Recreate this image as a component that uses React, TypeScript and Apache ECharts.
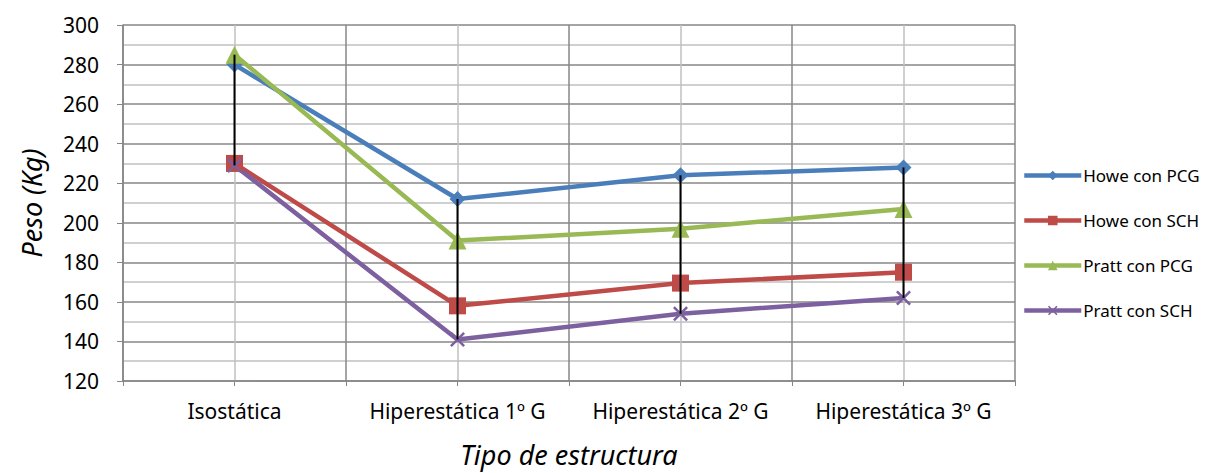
import React, { useEffect, useRef } from "react";
import * as echarts from "echarts";

const categories = ["Isostática", "Hiperestática 1º G", "Hiperestática 2º G", "Hiperestática 3º G"];
const howePCG = [280, 212, 224, 228];
const howeSCH = [230, 158, 169.5, 175];
const prattPCG = [285, 191, 197, 207];
const prattSCH = [229, 141, 154, 162];
const seriesNames = ["Howe con PCG", "Howe con SCH", "Pratt con PCG", "Pratt con SCH"];
const yTicks = { min: 120, max: 300, interval: 20 };

const FONT = "'Noto Sans', sans-serif";
const xPath = "path://M0,1.2L1.2,0L10,8.8L8.8,10Z M8.8,0L10,1.2L1.2,10L0,8.8Z";

export default function App() {
  const ref = useRef<HTMLDivElement>(null);
  useEffect(() => {
    if (!ref.current) return;
    const chart = echarts.init(ref.current, undefined, { renderer: "svg" });
    const all = [howePCG, howeSCH, prattPCG, prattSCH];
    const hiLo = categories.map((_, i) => {
      const vals = all.map((a) => a[i]);
      return [i, Math.max(...vals), Math.min(...vals)];
    });
    const mk = (name: string, data: number[], color: string, symbol: string, size: number) => ({
      name,
      type: "line",
      data,
      symbol,
      symbolSize: size,
      showSymbol: true,
      lineStyle: { color, width: 4.5 },
      itemStyle: { color },
      z: 3,
    });
    chart.setOption({
      animation: false,
      backgroundColor: "#fff",
      textStyle: { fontFamily: FONT },
      grid: { left: 123, top: 25, right: 198, bottom: 91 },
      legend: {
        orient: "vertical",
        left: 1022,
        top: 167,
        padding: 0,
        itemWidth: 57,
        itemHeight: 12,
        itemGap: 28,
        data: seriesNames,
        lineStyle: { width: 4.5 },
        textStyle: { fontSize: 17, color: "#000", fontFamily: FONT, padding: [0, 0, 0, -3] },
      },
      xAxis: [
        {
          type: "category",
          data: categories,
          boundaryGap: true,
          position: "bottom",
          axisLine: { show: true, lineStyle: { color: "#868686", width: 1.5 } },
          axisTick: { show: false },
          splitLine: { show: false },
          axisLabel: { interval: 0, hideOverlap: false, fontSize: 21, color: "#000", margin: 19, fontFamily: FONT },
          name: "Tipo de estructura",
          nameLocation: "middle",
          nameGap: 60,
          nameTextStyle: { fontSize: 27, fontStyle: "italic", color: "#000", fontFamily: FONT },
        },
        {
          type: "value",
          min: 0,
          max: 4,
          interval: 1,
          position: "bottom",
          axisLine: { show: false },
          axisLabel: { show: false },
          axisTick: { show: true, length: 5, inside: false, lineStyle: { color: "#868686" } },
          minorTick: { show: true, splitNumber: 2, length: 5, lineStyle: { color: "#868686" } },
          splitLine: { show: true, lineStyle: { color: "#878787", width: 1.5 } },
          minorSplitLine: { show: true, lineStyle: { color: "#c0c0c0", width: 1.5 } },
        },
      ],
      yAxis: {
        type: "value",
        min: yTicks.min,
        max: yTicks.max,
        interval: yTicks.interval,
        axisLine: { show: true, lineStyle: { color: "#868686", width: 1.5 } },
        axisTick: { show: true, length: 6, lineStyle: { color: "#868686" } },
        minorTick: { show: false, splitNumber: 2 },
        splitLine: { show: true, lineStyle: { color: "#878787", width: 1.5 } },
        minorSplitLine: { show: true, lineStyle: { color: "#c0c0c0", width: 1.5 } },
        axisLabel: { fontSize: 21, color: "#000", margin: 24, fontFamily: FONT },
        name: "Peso (Kg)",
        nameLocation: "middle",
        nameRotate: 90,
        nameGap: 78,
        nameTextStyle: { fontSize: 27, fontStyle: "italic", color: "#000", fontFamily: FONT },
      },
      series: [
        mk(seriesNames[0], howePCG, "#4a7ebb", "diamond", 16),
        mk(seriesNames[1], howeSCH, "#be4b48", "rect", 17),
        mk(seriesNames[2], prattPCG, "#98b954", "triangle", 18),
        mk(seriesNames[3], prattSCH, "#7d60a0", xPath, 15),
        {
          type: "custom",
          name: "hilo",
          xAxisIndex: 0,
          data: hiLo,
          z: 10,
          renderItem: (_params: any, api: any) => {
            const p1 = api.coord([api.value(0), api.value(1)]);
            const p2 = api.coord([api.value(0), api.value(2)]);
            return {
              type: "line",
              shape: { x1: p1[0], y1: p1[1], x2: p2[0], y2: p2[1] },
              style: { stroke: "#000", lineWidth: 2 },
            };
          },
        },
      ],
    });
    return () => chart.dispose();
  }, []);
  return <div ref={ref} style={{ width: 1213, height: 473, position: "absolute", left: 0, top: 0 }} />;
}
